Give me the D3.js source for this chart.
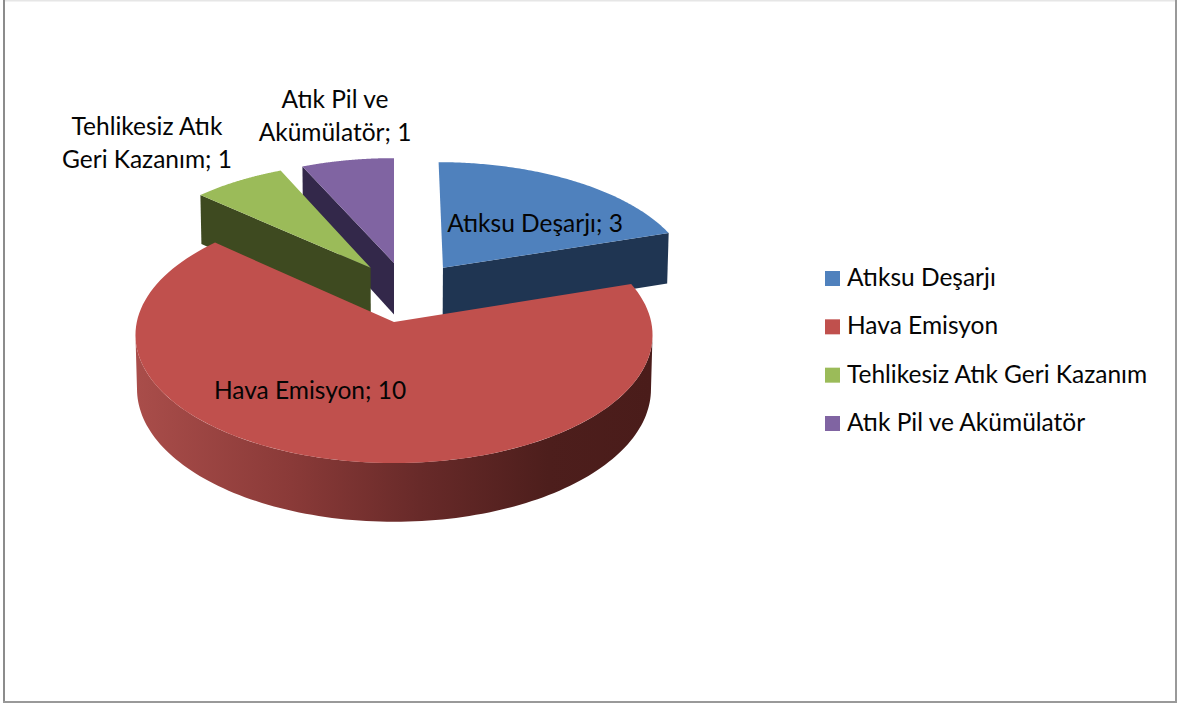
<!DOCTYPE html>
<html lang="tr">
<head>
<meta charset="utf-8">
<script src="https://cdn.jsdelivr.net/npm/d3@7/dist/d3.min.js"></script>
<style>
  html, body { margin: 0; padding: 0; background: #fff; }
  svg { display: block; }
  text { font-family: Lato, sans-serif; fill: #050505; }
</style>
</head>
<body>
<div id="chart"></div>
<script>
// Chart data
const categories = ['Atıksu Deşarjı', 'Hava Emisyon', 'Tehlikesiz Atık Geri Kazanım', 'Atık Pil ve Akümülatör'];
const values = [3, 10, 1, 1];
const topColors = ['#4f81bd', '#c0504d', '#9bbb59', '#8064a2'];
const sideColors = ['#1f3552', '#4a1c1a', '#3e4a20', '#33284a'];

const width = 1180;
const height = 704;
const fontSize = 24.5;

// Perspective model of the pie, origin on the apex of the red slice
const originX = 394;
const originY = 322;
const radiusX = 257.2;
const radiusY = 126.7;
const perspective = 0.1016;
const depth = 54;
const depthShrink = 0.006;
const explode = 0.25;

const svg = d3.select('#chart').append('svg')
  .attr('width', width)
  .attr('height', height);

// Frame of the chart area
const frame = svg.append('g');
frame.append('rect').attr('x', 5).attr('y', 0).attr('width', 1171).attr('height', 1.5).attr('fill', '#e6e6e6');
frame.append('rect').attr('x', 3).attr('y', 0).attr('width', 2).attr('height', 703).attr('fill', '#8c8c8c');
frame.append('rect').attr('x', 1175).attr('y', 0).attr('width', 2).attr('height', 703).attr('fill', '#999');
frame.append('rect').attr('x', 3).attr('y', 701).attr('width', 1174).attr('height', 2).attr('fill', '#999');

const slices = d3.pie().sort(null).value((d) => d)(values);

// Disk coordinates: u to the right, v towards the viewer
const direction = (angle) => [Math.sin(angle), -Math.cos(angle)];

const project = ([u, v], z = 0) => {
  const s = 1 / (1 - perspective * v + depthShrink * z);
  return [originX + radiusX * u * s, originY + radiusY * v * s + depth * z * s];
};

// Every slice moves out along its own middle; red stays on the origin
const middle = (d) => (d.startAngle + d.endAngle) / 2;
const redDir = direction(middle(slices[1]));
const offsetOf = (d) => {
  const dir = direction(middle(d));
  return [(dir[0] - redDir[0]) * explode, (dir[1] - redDir[1]) * explode];
};

const rim = (d, angle, z = 0) => {
  const off = offsetOf(d);
  const dir = direction(angle);
  return project([off[0] + dir[0], off[1] + dir[1]], z);
};

const arcAngles = (from, to) => d3.range(0, 121).map((i) => from + (to - from) * i / 120);
const line = d3.line();

const topFace = (d) => line([
  project(offsetOf(d)),
  ...arcAngles(d.startAngle, d.endAngle).map((a) => rim(d, a)),
]) + 'Z';

const cutFace = (d, angle) => line([
  project(offsetOf(d)),
  rim(d, angle),
  rim(d, angle, 1),
  project(offsetOf(d), 1),
]) + 'Z';

// Gradient on the round wall of the red slice
const defs = svg.append('defs');
const wallGradient = defs.append('linearGradient')
  .attr('id', 'wall')
  .attr('gradientUnits', 'userSpaceOnUse')
  .attr('x1', originX - radiusX)
  .attr('x2', originX + radiusX)
  .attr('y1', 0)
  .attr('y2', 0);
wallGradient.selectAll('stop')
  .data([[0, '#a94d4a'], [0.3, '#8a3a38'], [0.55, '#682a29'], [0.8, '#4d1e1c'], [1, '#4a1c1a']])
  .join('stop')
    .attr('offset', (d) => d[0])
    .attr('stop-color', (d) => d[1]);

const pie3d = svg.append('g');

// Back to front: purple, green, blue, then the big red slice
const cutAngles = [slices[0].endAngle, null, slices[2].startAngle, slices[3].startAngle];
[3, 2, 0].forEach((i) => {
  pie3d.append('path')
    .attr('d', cutFace(slices[i], cutAngles[i]))
    .attr('fill', sideColors[i]);
  pie3d.append('path')
    .attr('d', topFace(slices[i]))
    .attr('fill', topColors[i]);
});

const edge = Math.acos(-perspective);
const wallAngles = arcAngles(edge, 2 * Math.PI - edge);
pie3d.append('path')
  .attr('d', line([
    ...wallAngles.map((a) => rim(slices[1], a)),
    ...wallAngles.slice().reverse().map((a) => rim(slices[1], a, 1)),
  ]) + 'Z')
  .attr('fill', 'url(#wall)');
pie3d.append('path')
  .attr('d', topFace(slices[1]))
  .attr('fill', topColors[1]);

// Data labels
const labelLines = [
  [`${categories[0]}; ${values[0]}`],
  [`${categories[1]}; ${values[1]}`],
  ['Tehlikesiz Atık', `Geri Kazanım; ${values[2]}`],
  ['Atık Pil ve', `Akümülatör; ${values[3]}`],
];
const labelAt = [[535, 232], [310, 399], [147, 135], [335, 108]];

svg.append('g').selectAll('text')
  .data(labelLines)
  .join('text')
    .attr('text-anchor', 'middle')
    .attr('font-size', fontSize)
    .attr('transform', (d, i) => `translate(${labelAt[i]})`)
    .selectAll('tspan')
    .data((d) => d)
    .join('tspan')
      .attr('x', 0)
      .attr('y', (d, i) => i * 33)
      .text((d) => d);

// Legend
const legendRow = d3.scalePoint().domain(categories).range([271, 416]);
const legend = svg.append('g').selectAll('g')
  .data(categories)
  .join('g')
    .attr('transform', (d) => `translate(825,${legendRow(d)})`);

legend.append('rect')
  .attr('width', 15)
  .attr('height', 15)
  .attr('fill', (d, i) => topColors[i]);

legend.append('text')
  .attr('x', 22)
  .attr('y', 15)
  .attr('font-size', fontSize)
  .text((d) => d);
</script>
</body>
</html>
